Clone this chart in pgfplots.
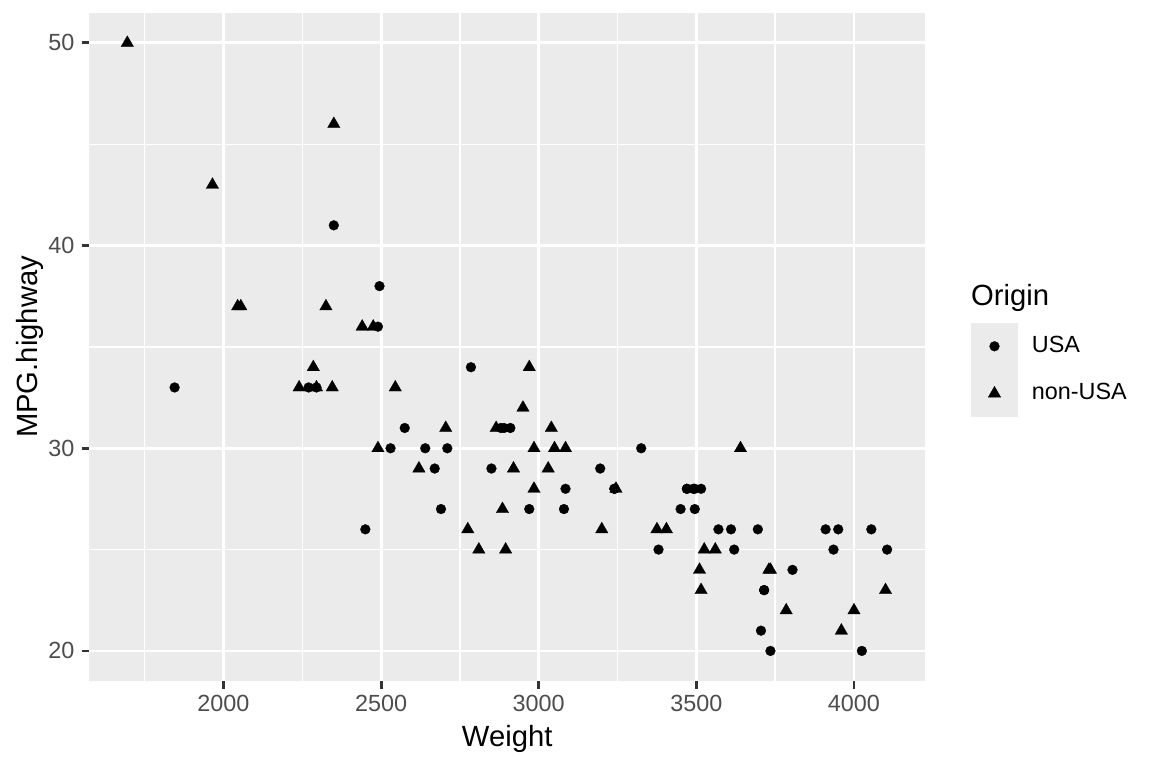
\documentclass[border=0pt]{standalone}
\usepackage{fontspec}
\setmainfont{Liberation Sans}
\usepackage{pgfplots}
\usepackage{pgfplotstable}
\pgfplotsset{compat=1.18}
\definecolor{panelbg}{HTML}{EBEBEB}
\definecolor{ticktext}{HTML}{4D4D4D}
\definecolor{tickline}{HTML}{333333}

\pgfplotstableread{
w y
2880 31
3470 28
4105 25
3495 27
3620 25
3935 25
2490 36
2785 34
3240 28
3195 29
3715 23
4025 20
3910 26
3380 25
3515 28
3085 28
3570 26
2270 33
2670 29
2970 27
3705 21
3080 27
3805 24
2295 33
3490 28
1845 33
2530 30
2690 27
2850 29
2710 30
3735 20
3325 30
3950 26
3695 26
4055 26
2450 26
3610 26
2910 31
2890 31
3715 23
3470 28
2640 30
2350 41
2575 31
3240 28
3450 27
3495 28
2495 38
}\usa

\pgfplotstableread{
w y
2705 31
3560 25
3375 26
3405 26
3640 30
1695 50
2475 36
2865 31
2350 46
3040 31
2345 33
2620 29
2285 34
2885 27
4000 22
3510 24
3515 23
2325 37
2440 36
2970 34
3735 24
2895 25
2920 29
3525 25
2295 33
3730 24
2545 33
3050 30
4100 23
3200 26
2775 26
2045 37
2490 30
3085 30
1965 43
2055 37
2950 32
3030 29
3785 22
2240 33
3960 21
2985 30
2810 25
2985 28
3245 28
}\nonusa

\begin{document}
\begin{tikzpicture}[x=1bp,y=1bp]
\useasboundingbox (0,0) rectangle (432,288);
\begin{axis}[
  at={(33.5bp,32.5bp)}, anchor=south west,
  scale only axis, width=313.4bp, height=250.8bp,
  xmin=1574.5, xmax=4225.5, ymin=18.5, ymax=51.5,
  xtick={2000,2500,3000,3500,4000},
  ytick={20,30,40,50},
  minor xtick={1750,2250,2750,3250,3750,4250},
  minor ytick={25,35,45},
  grid=both,
  major grid style={draw=white, line width=1.07bp},
  minor grid style={draw=white, line width=0.53bp},
  axis background/.style={fill=panelbg},
  axis line style={draw=none},
  tick pos=left, tick align=outside,
  major tick length=2.75bp, minor tick length=0pt,
  major tick style={draw=tickline, line width=1.07bp},
  /pgf/number format/assume math mode=true,
  /pgf/number format/1000 sep={},
  tick label style={font=\fontsize{8.8}{10}\selectfont, text=ticktext, inner sep=0pt},
  xticklabel style={anchor=north},
  yticklabel style={anchor=east},
  xticklabel shift=2.1bp,
  yticklabel shift=2.7bp,
  xlabel={Weight},
  ylabel={MPG.highway},
  every axis x label/.style={at={(axis description cs:0.5,-0.0981)}, anchor=base, font=\fontsize{11}{13}\selectfont, inner sep=0pt},
  every axis y label/.style={at={(axis description cs:-0.0626,0.5)}, rotate=90, anchor=base, font=\fontsize{11}{13}\selectfont, inner sep=0pt},
  legend cell align=left,
  legend style={at={(1.0548,0.5363)}, anchor=north west, draw=none, fill=none,
    inner sep=0pt, outer sep=0pt, row sep=0pt, column sep=5.2bp,
    font=\fontsize{8.8}{10}\selectfont, nodes={inner sep=0pt, outer sep=0pt}},
  legend image code/.code={\fill[panelbg] (0bp,-8.66bp) rectangle (17.3bp,8.66bp);
    \draw[mark repeat=2,mark phase=2,#1] plot coordinates {(7.66bp,0bp)(8.66bp,0bp)(9.66bp,0bp)};},
]
\addplot[only marks, mark=*, mark size=1.85bp, mark options={fill=black, draw=black, line width=0.1bp}] table[x=w,y=y] {\usa};
\addlegendentry{USA}
\addplot[only marks, mark=triangle*, mark size=2.7bp, mark options={fill=black, draw=black, line width=0.1bp}] table[x=w,y=y] {\nonusa};
\addlegendentry{non-USA}
\end{axis}
\node[anchor=base west, font=\fontsize{11}{13}\selectfont, inner sep=0pt] at (364,173.4) {Origin};
\end{tikzpicture}
\end{document}
